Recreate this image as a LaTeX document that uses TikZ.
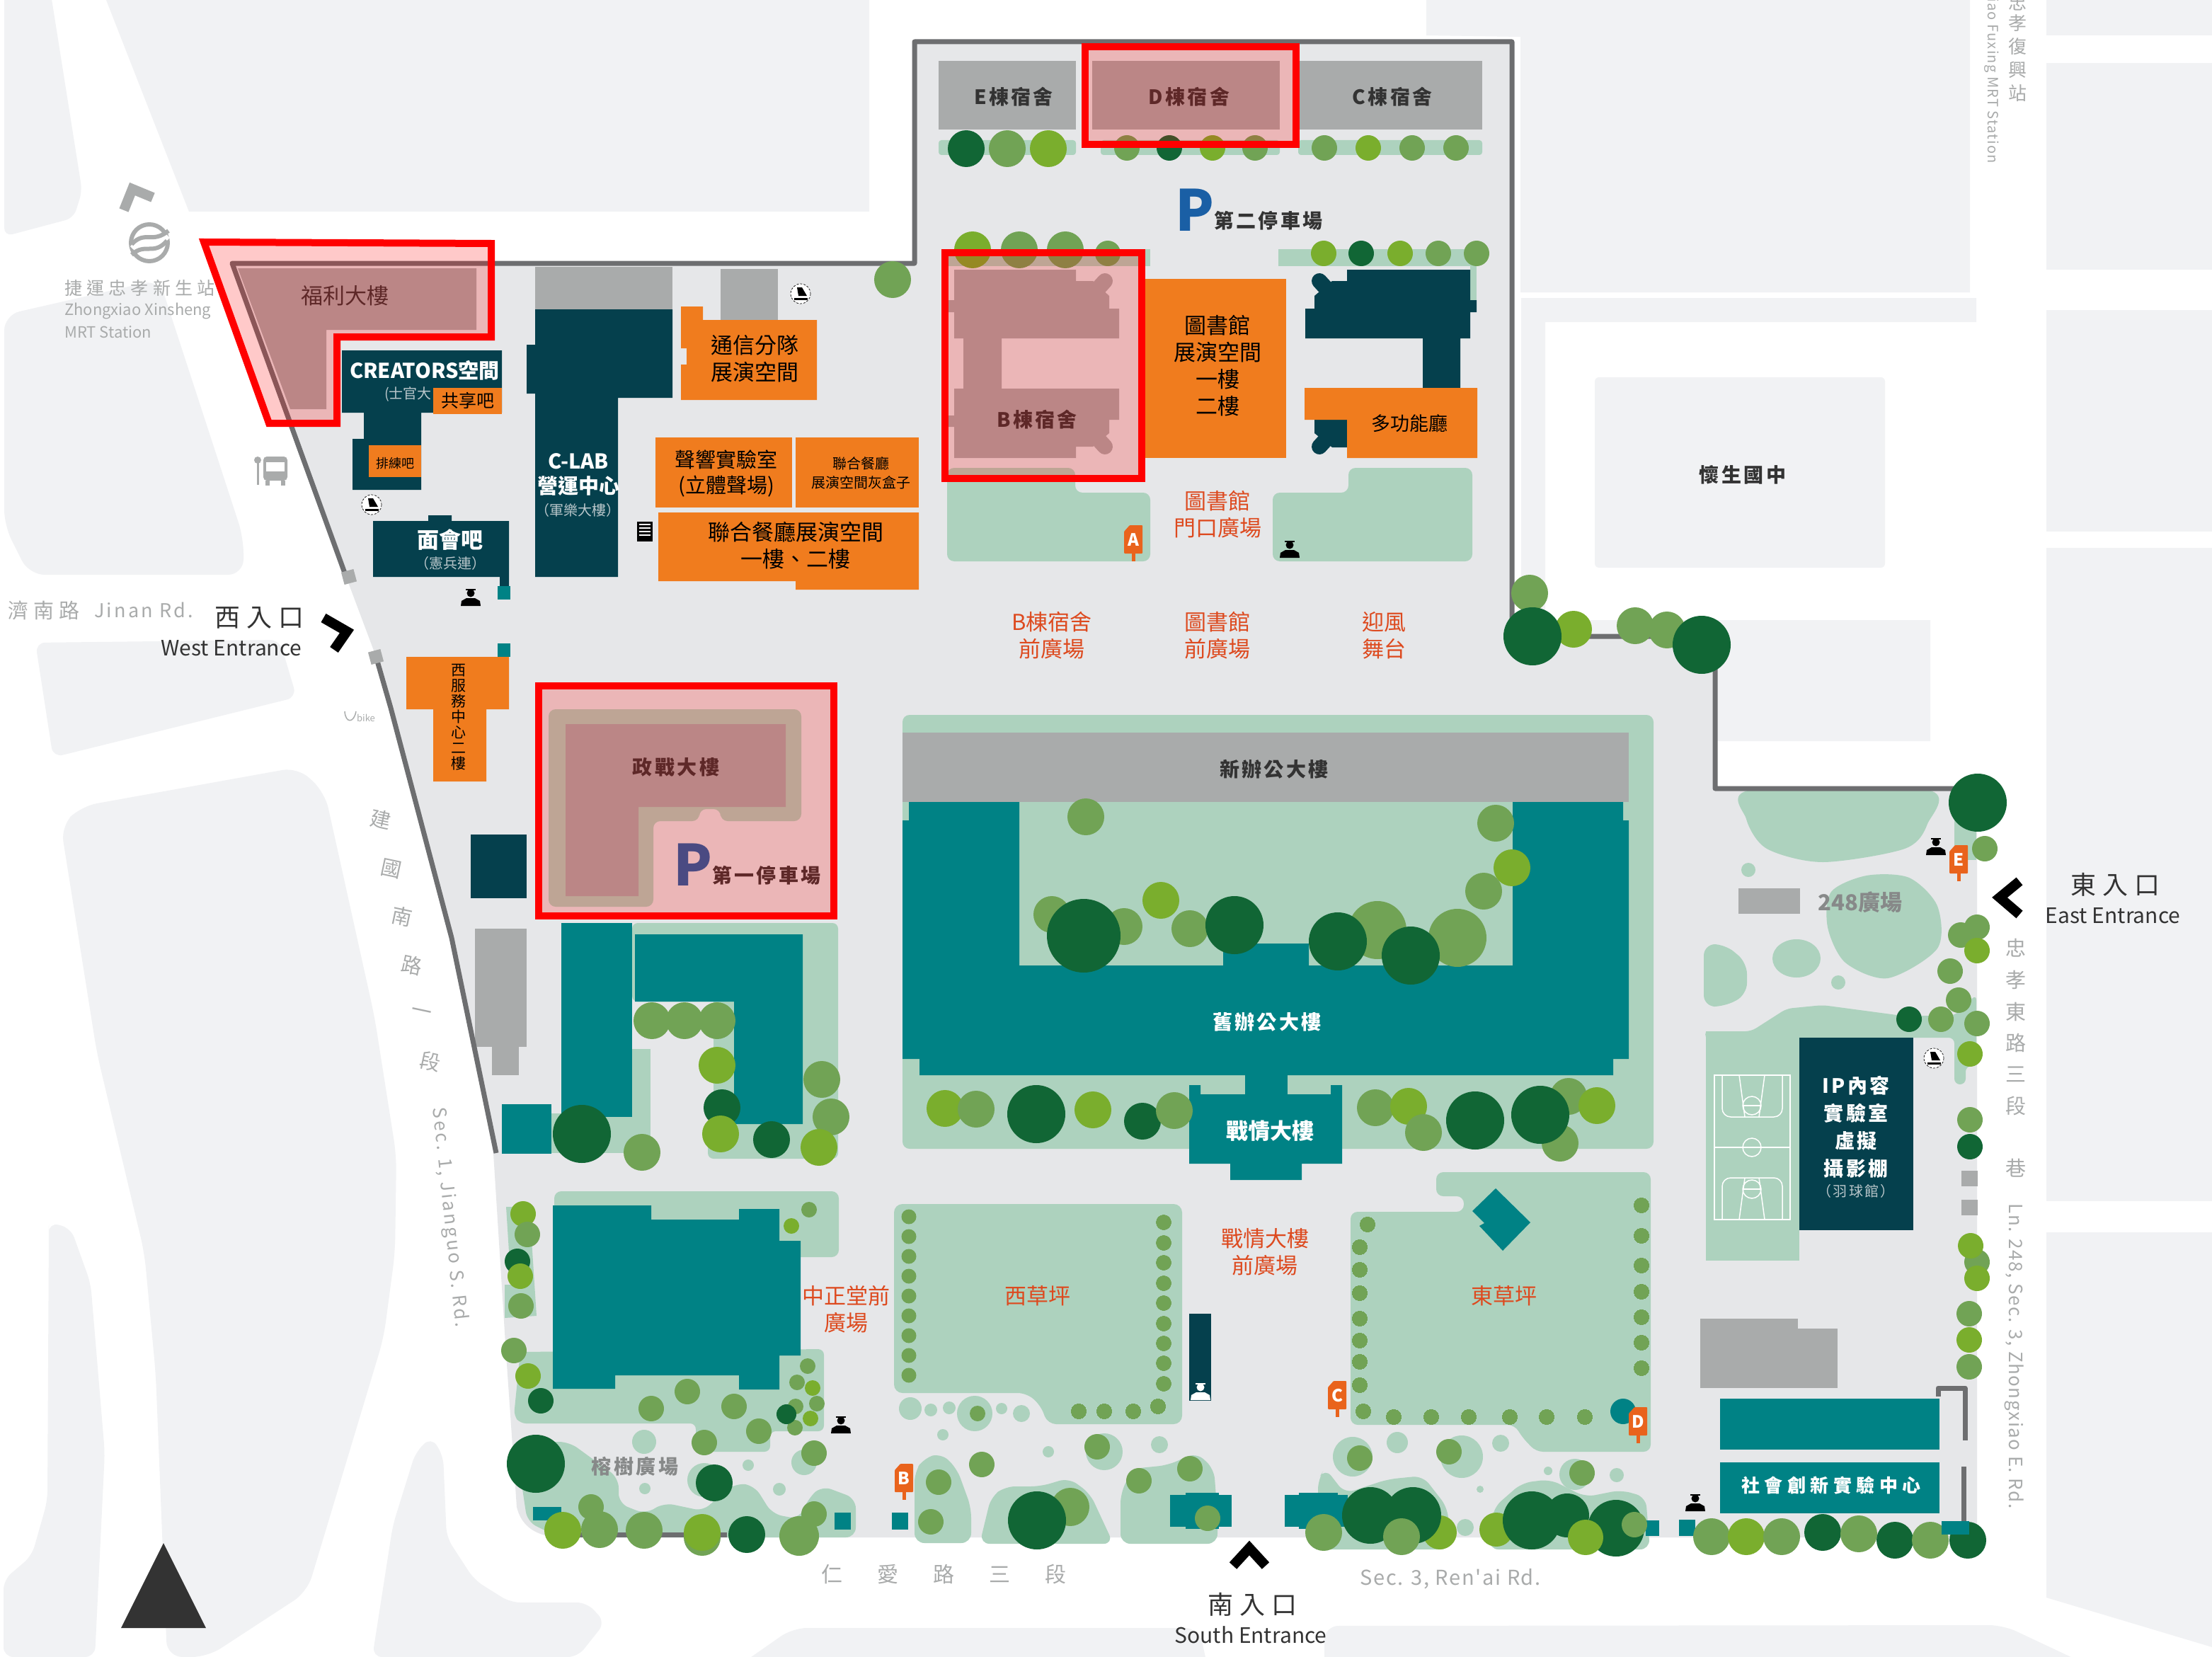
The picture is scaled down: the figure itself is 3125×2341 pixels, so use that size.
\documentclass[tikz,border=0pt]{standalone}
\usepackage{fontspec}
\setmainfont{Noto Sans CJK TC}
\newfontfamily\sps[LetterSpace=6]{Noto Sans CJK TC}
\newfontfamily\spc[LetterSpace=12]{Noto Sans CJK TC}
\newfontfamily\spw[LetterSpace=25]{Noto Sans CJK TC}
\definecolor{rd}{HTML}{F1F2F4}
\definecolor{grd}{HTML}{E6E7E9}
\definecolor{wal}{HTML}{6D6E70}
\definecolor{lwn}{HTML}{ADD2BE}
\definecolor{tea}{HTML}{008285}
\definecolor{dkt}{HTML}{05404D}
\definecolor{gbl}{HTML}{A9ABAB}
\definecolor{org}{HTML}{F07C1E}
\definecolor{rtx}{HTML}{DD4A1F}
\definecolor{sgn}{HTML}{E9631C}
\definecolor{dk}{HTML}{116635}
\definecolor{md}{HTML}{71A355}
\definecolor{lt}{HTML}{7AAE2D}
\definecolor{ink}{HTML}{333333}
\definecolor{blu}{HTML}{1A5FA5}
\definecolor{lgt}{HTML}{B9C6CA}
\newcommand\fz[2]{\fontsize{#1}{#2}\selectfont}
\newcommand\tr[4]{\fill[#4] (#1,#2) circle (#3);}
\newcommand\guard[3]{\begin{scope}[shift={(#1,#2)},#3]
 \fill (0,-5) circle (5.5); \fill (-7,-11) rectangle (7,-9);
 \fill (-14,13) -- (-13,6) -- (-6,2) -- (6,2) -- (13,6) -- (14,13) -- cycle;\end{scope}}
\newcommand\smk[2]{\begin{scope}[shift={(#1,#2)}]
 \fill[white] (0,0) circle (14); \draw[black,line width=.7,densely dashed] (0,0) circle (14);
 \fill[black] (-9,6) rectangle (10,9); \fill[black] (-5,-9) -- (2,-9) -- (9,3) -- (-3,3) -- cycle;\end{scope}}
\newcommand\sgnp[3]{\fill[sgn] (#1-2.5,#2+40) rectangle (#1+2.5,#2+51);
 \fill[sgn,rounded corners=1] (#1-13,#2+9) -- (#1-5,#2) -- (#1+13,#2) -- (#1+13,#2+40) -- (#1-13,#2+40) -- cycle;
 \node[txt,white,font=\fz{24}{24}\bfseries] (sign#3) at (#1,#2+21) {#3};}
\tikzset{txt/.style={inner sep=0pt,align=center},
 wallline/.style={draw=wal,line width=7,line join=round},
 chev/.style={draw=black,line width=14,line join=miter},
 redbox/.style={draw=red,line width=10,line join=miter},
 tint/.style={fill=red,fill opacity=0.21},
 road/.style={txt,text=gbl}}
\begin{document}
\begin{tikzpicture}[x=1pt,y=-1pt]
\useasboundingbox (0,0) rectangle (3125,2341);
\fill[white] (0,0) rectangle (3125,2341);
% road blocks
\begin{scope}[fill=rd]
\fill (150,0) -- (1228,0) -- (1228,299) -- (267,299) -- cycle;
\fill[rounded corners=12] (6,-20) -- (70,-20) -- (116,270) -- (104,308) -- (6,334) -- cycle;
\fill[rounded corners=22] (6,445) -- (225,395) -- (344,760) -- (344,812) -- (41,812) -- (6,742) -- cycle;
\fill[rounded corners=14] (50,908) -- (395,904) -- (419,985) -- (75,1070) -- cycle;
\fill[rounded corners=22] (86,1167) -- (115,1139) -- (421,1084) -- (459,1120) -- (529,1436) -- (560,1633) -- (558,1770) -- (542,1890) -- (434,2249) -- (293,2341) -- (236,2341) -- (220,1941) -- (204,1770) -- (137,1488) -- cycle;
\fill[rounded corners=14] (69,1744) -- (69,1727) -- (100,1735) -- (128,1813) -- (148,2052) -- (134,2341) -- (5,2341) -- (5,2232) -- (45,2198) -- (67,2120) -- cycle;
\fill[rounded corners=14] (526,2341) -- (555,2155) -- (587,2052) -- (609,2030) -- (626,2056) -- (631,2172) -- (670,2232) -- (721,2264) -- (829,2264) -- (855,2292) -- (816,2341) -- cycle;
\fill[rounded corners=20] (1034,2360) -- (1120,2300) -- (1694,2300) -- (1707,2360) -- cycle;
\fill[rounded corners=20] (1871,2360) -- (1871,2297) -- (2830,2296) -- (2966,2360) -- cycle;
\fill (2015,0) -- (2783,0) -- (2783,413) -- (2148,413) -- (2148,52) -- (2015,50) -- cycle;
\fill (2149,421) -- (2792,421) -- (2792,455) -- (2183,455) -- (2183,876) -- (2727,876) -- (2727,1047) -- (2149,1047) -- cycle;
\fill[rounded corners=6] (2253,533) rectangle (2663,802);
\fill (2891,0) rectangle (3125,50);
\fill (2891,89) rectangle (3125,381);
\fill (2891,438) rectangle (3125,751);
\fill (2891,774) rectangle (3125,1697);
\fill (2891,1741) -- (3125,1741) -- (3125,2327) -- (2891,2257) -- cycle;
\end{scope}
% campus ground
\fill[grd] (328,372) -- (1292,372) -- (1292,59) -- (2136,59) -- (2136,899) -- (2423,899) -- (2423,1114) -- (2793,1114) -- (2793,2172) -- (790,2172) .. controls (750,2170) and (735,2150) .. (730,2129) -- (714,1898) -- (697,1629) -- (638,1325) -- (552,1000) -- (531,927) -- (489,815) -- cycle;
% north arrow
\fill[ink] (231,2180) -- (291,2300) -- (171,2300) -- cycle;
% lawns
\begin{scope}[fill=lwn]
\fill[rounded corners=4] (1326,198) rectangle (1520,219);
\fill[rounded corners=4] (1555,198) rectangle (1808,219);
\fill[rounded corners=4] (1834,198) rectangle (2094,219);
\fill (1339,352) rectangle (1625,376);
\fill (1806,352) rectangle (2086,376);
\fill (2077,376) rectangle (2086,424);
\fill[rounded corners=10] (1338,661) -- (1519,661) -- (1519,696) -- (1625,696) -- (1625,793) -- (1338,793) -- cycle;
\fill[rounded corners=10] (1905,661) -- (2080,661) -- (2080,793) -- (1798,793) -- (1798,696) -- (1905,696) -- cycle;
\fill[rounded corners=10] (775,1002) -- (1132,1002) -- (1132,1160) -- (1018,1160) -- (1018,1143) -- (988,1143) -- (988,1160) -- (923,1160) -- (923,1281) -- (775,1281) -- cycle;
\fill[rounded corners=8] (893,1304) -- (1184,1304) -- (1184,1637) -- (1000,1637) -- (1000,1600) -- (1037,1600) -- (1037,1415) -- (893,1415) -- cycle;
\fill (1008,1410) rectangle (1037,1620);
\fill (893,1482) rectangle (919,1629);
\fill (779,1573) rectangle (919,1629);
\fill[rounded corners=10] (783,1683) rectangle (1185,1776);
\fill[rounded corners=8] (735,1910) -- (1164,1906) -- (1164,2022) -- (1088,2022) -- (1088,2051) -- (983,2051) -- (983,2011) -- (735,2011) -- (726,2000) -- cycle;
\fill (715,1705) -- (748,1705) -- (758,1859) -- (713,1862) -- (713,1815) -- (722,1815) -- cycle;
\fill[rounded corners=14] (728,2037) -- (804,2037) -- (874,2088) -- (874,2124) -- (912,2139) -- (938,2123) -- (995,2135) -- (1008,2120) -- (1040,2095) -- (1066,2099) -- (1091,2139) -- (1129,2146) -- (1142,2117) -- (1161,2099) -- (1209,2117) -- (1209,2172) -- (790,2172) -- (745,2150) -- cycle;
\fill[rounded corners=10] (1275,1010) rectangle (2336,1623);
\fill[rounded corners=12] (1263,1701) -- (1670,1701) -- (1670,2012) -- (1480,2012) -- (1470,1985) -- (1450,1968) -- (1263,1968) -- cycle;
\fill[rounded corners=10] (2029,1656) -- (2332,1656) -- (2332,2051) -- (2170,2051) -- (2150,2030) -- (2140,2013) -- (1908,2013) -- (1908,1712) -- (2068,1712) -- (2068,1690) -- (2029,1690) -- cycle;
\fill[rounded corners=14] (1292,2180) -- (1292,2080) -- (1305,2060) -- (1330,2053) -- (1352,2075) -- (1372,2130) -- (1372,2180) -- cycle;
\fill[rounded corners=14] (1384,2181) -- (1400,2115) -- (1420,2100) -- (1470,2100) -- (1510,2088) -- (1540,2110) -- (1573,2181) -- cycle;
\fill[rounded corners=14] (1583,2181) -- (1583,2110) -- (1600,2075) -- (1650,2070) -- (1690,2052) -- (1715,2075) -- (1720,2140) -- (1720,2181) -- cycle;
\fill[rounded corners=14] (1862,2189) -- (1862,2090) -- (1872,2074) -- (1900,2110) -- (1960,2090) -- (2010,2085) -- (2045,2130) -- (2049,2189) -- cycle;
\fill[rounded corners=14] (2103,2189) -- (2110,2130) -- (2150,2095) -- (2190,2090) -- (2240,2115) -- (2290,2105) -- (2325,2115) -- (2331,2189) -- cycle;
\foreach \x/\y/\r in {910/2037/17,1057/2070/8,911/2103/8,1101/2104/9,995/2091/24,1136/2066/18,1286/1990/16,1315/1992/9,1341/1989/9,1377/1997/25,1415/1990/8,1443/1997/12,1332/2027/8,1560/2051/26,1481/2051/8,1638/2041/12,1911/2058/28,1974/2038/15,2065/2058/30,2120/2039/12,2091/2104/5,2070/2158/12,2187/2078/6,2225/2083/22,2284/2084/10,2470/1229/10,2597/1388/10}
  \fill (\x,\y) circle (\r);
\begin{scope}[xshift=-3pt]
\fill plot[smooth cycle] coordinates {(2477,1116) (2726,1116) (2726,1164) (2694,1199) (2578,1218) (2499,1199) (2470,1157)};
\fill (2764,1119) rectangle (2795,1215);
\fill plot[smooth cycle] coordinates {(2590,1260) (2640,1237) (2700,1240) (2740,1280) (2740,1340) (2670,1382) (2610,1360) (2585,1310)};
\fill (2541,1354) ellipse (34 and 27);
\fill[rounded corners=16] (2410,1334) -- (2440,1334) -- (2471,1360) -- (2471,1405) -- (2440,1422) -- (2410,1422) -- cycle;
\fill[rounded corners=8] (2412,1457) -- (2477,1457) -- (2527,1425) -- (2578,1420) -- (2690,1435) -- (2764,1435) -- (2795,1405) -- (2795,1506) -- (2780,1506) -- (2780,1532) -- (2764,1532) -- (2764,1466) -- (2412,1466) -- cycle;
\fill (2413,1457) rectangle (2545,1781);
\end{scope}
\end{scope}
% grey buildings
\begin{scope}[fill=gbl]
\fill (1326,86) rectangle (1520,183);
\fill (1543,86) rectangle (1808,183);
\fill (1830,86) rectangle (2094,183);
\fill (1348,381) -- (1520,381) -- (1520,397) -- (1544,397) -- (1567,418) -- (1567,436) -- (1581,436) -- (1581,478) -- (1415,478) -- (1415,549) -- (1581,549) -- (1581,593) -- (1567,593) -- (1567,612) -- (1544,631) -- (1520,631) -- (1520,647) -- (1348,647) -- (1348,603) -- (1339,603) -- (1339,587) -- (1348,587) -- (1348,549) -- (1361,549) -- (1361,478) -- (1348,478) -- (1348,441) -- (1339,441) -- (1339,424) -- (1348,424) -- cycle;
\draw[gbl,line width=22,line cap=round] (1540,420) -- (1561,397);
\draw[gbl,line width=22,line cap=round] (1540,608) -- (1561,631);
\fill (336,379) -- (673,379) -- (673,466) -- (461,466) -- (461,578) -- (410,578) -- cycle;
\fill (799,1023) -- (1110,1023) -- (1110,1140) -- (902,1140) -- (902,1266) -- (799,1266) -- cycle;
\fill (756,377) rectangle (950,437);
\fill (1018,380) rectangle (1099,452);
\fill (671,1312) rectangle (744,1479);
\fill (695,1479) rectangle (733,1519);
\fill (1275,1035) rectangle (2301,1133);
\fill (2456,1255) rectangle (2543,1291);
\fill (2771,1654) rectangle (2794,1676);
\fill (2771,1695) rectangle (2794,1717);
\fill (2402,1863) rectangle (2540,1961);
\fill (2540,1877) rectangle (2596,1961);
\end{scope}
% dark teal buildings
\begin{scope}[fill=dkt]
\fill (483,495) -- (709,495) -- (709,583) -- (595,583) -- (595,692) -- (498,692) -- (498,620) -- (514,620) -- (514,583) -- (483,583) -- cycle;
\fill (527,736) -- (605,736) -- (605,728) -- (638,728) -- (638,736) -- (719,736) -- (719,828) -- (706,828) -- (706,815) -- (527,815) -- cycle;
\fill (756,437) -- (950,437) -- (950,562) -- (873,562) -- (873,815) -- (756,815) -- (756,556) -- (744,556) -- (744,487) -- (756,487) -- cycle;
\fill (1903,381) -- (2077,381) -- (2077,424) -- (2086,424) -- (2086,441) -- (2077,441) -- (2077,478) -- (2063,478) -- (2063,548) -- (2010,548) -- (2010,478) -- (1844,478) -- (1844,436) -- (1857,436) -- (1857,418) -- (1882,397) -- (1903,397) -- cycle;
\draw[dkt,line width=22,line cap=round] (1885,420) -- (1864,397);
\fill (1857,593) -- (1903,593) -- (1903,632) -- (1882,632) -- (1857,612) -- cycle;
\draw[dkt,line width=22,line cap=round] (1885,608) -- (1864,631);
\fill (665,1179) rectangle (744,1269);
\fill (1680,1856) rectangle (1711,1979);
\fill (2542,1466) rectangle (2703,1738);
\end{scope}
% teal buildings
\begin{scope}[fill=tea]
\fill (703,828) rectangle (721,847);
\fill (703,909) rectangle (721,928);
\fill (1284,1133) -- (1440,1133) -- (1440,1364) -- (1728,1364) -- (1728,1333) -- (1849,1333) -- (1849,1364) -- (2137,1364) -- (2137,1133) -- (2293,1133) -- (2293,1159) -- (2301,1159) -- (2301,1496) -- (2279,1496) -- (2279,1519) -- (1299,1519) -- (1299,1496) -- (1275,1496) -- (1275,1159) -- (1284,1159) -- cycle;
\fill (1759,1519) rectangle (1819,1546);
\fill (1680,1533) -- (1696,1533) -- (1696,1546) -- (1880,1546) -- (1880,1533) -- (1896,1533) -- (1896,1644) -- (1839,1644) -- (1839,1667) -- (1738,1667) -- (1738,1644) -- (1680,1644) -- cycle;
\fill (793,1304) rectangle (893,1578);
\fill (897,1320) -- (1134,1320) -- (1134,1588) -- (1037,1588) -- (1037,1415) -- (897,1415) -- cycle;
\fill (709,1560) rectangle (779,1630);
\fill (781,1703) -- (920,1703) -- (920,1723) -- (1044,1723) -- (1044,1708) -- (1101,1708) -- (1101,1753) -- (1131,1753) -- (1131,1915) -- (1101,1915) -- (1101,1963) -- (1044,1963) -- (1044,1943) -- (869,1943) -- (869,1962) -- (781,1962) -- cycle;
\fill (2113,1679) -- (2162,1727) -- (2123,1767) -- (2090,1732) -- (2097,1728) -- (2080,1711) -- cycle;
\fill (753,2129) rectangle (793,2148);
\fill (1179,2137) rectangle (1202,2161);
\fill (1260,2137) rectangle (1283,2161);
\fill (1653,2112) rectangle (1740,2157); \fill (1675,2109) rectangle (1722,2160);
\fill (1815,2112) rectangle (1904,2157); \fill (1835,2109) rectangle (1890,2160);
\fill (2325,2148) rectangle (2344,2170);
\fill (2372,2147) rectangle (2395,2170);
\fill (2293,1994) circle (18);
\fill (2430,1976) rectangle (2740,2048);
\fill (2430,2066) rectangle (2740,2138);
\end{scope}
% orange buildings
\begin{scope}[fill=org]
\fill (521,629) rectangle (595,674);
\fill (962,452) -- (962,433) -- (993,433) -- (993,452) -- (1154,452) -- (1154,565) -- (962,565) -- (962,515) -- (970,515) -- (970,492) -- (962,492) -- cycle;
\fill (926,618) rectangle (1119,717);
\fill (1124,618) rectangle (1298,717);
\fill (930,724) -- (1298,724) -- (1298,833) -- (1124,833) -- (1124,821) -- (930,821) -- cycle;
\fill (1618,394) rectangle (1817,647);
\fill (1843,548) -- (2087,548) -- (2087,647) -- (1903,647) -- (1903,593) -- (1843,593) -- cycle;
\fill (574,928) -- (719,928) -- (719,1002) -- (687,1002) -- (687,1104) -- (612,1104) -- (612,1002) -- (574,1002) -- cycle;
\fill (612,548) rectangle (709,585);
\end{scope}
% walls
\draw[wallline] (489,815) -- (328,372) -- (1292,372) -- (1292,59) -- (2136,59) -- (2136,899) -- (2423,899) -- (2423,1114) -- (2762,1114);
\draw[wallline] (531,927) -- (552,1000) -- (638,1325) -- (701,1629);
\draw[wallline] (817,2168) -- (1027,2168);
\draw[wallline] (2738,1973) -- (2738,1961) -- (2776,1961) -- (2776,2035);
\draw[wallline] (2774,2072) -- (2774,2150);
\fill[gbl,rotate around={15:(493,815)}] (484,806) rectangle (502,824);
\fill[gbl,rotate around={15:(531,928)}] (522,919) rectangle (540,937);
% basketball court
\begin{scope}[xshift=-3pt,draw=white,line width=1.5]
\draw (2425,1519) rectangle (2532,1723);
\draw (2425,1621) -- (2532,1621);
\draw (2478,1621) circle (13);
\draw[rounded corners=12] (2436,1519) -- (2436,1578) -- (2521,1578) -- (2521,1519);
\draw (2460,1519) -- (2468,1578) (2496,1519) -- (2488,1578);
\draw (2478,1562) circle (13); \draw (2465,1562) -- (2491,1562);
\draw[rounded corners=12] (2436,1723) -- (2436,1664) -- (2521,1664) -- (2521,1723);
\draw (2460,1723) -- (2468,1664) (2496,1723) -- (2488,1664);
\draw (2478,1680) circle (13); \draw (2465,1680) -- (2491,1680);
\end{scope}
% trees
\foreach \x/\y/\r/\c in {1365/210/26/dk,1423/210/26/md,1481/210/26/lt,1592/209/18/md,1652/209/18/dk,1713/209/18/lt,1773/209/18/md,1871/209/18/md,1933/209/18/lt,1995/209/18/md,2057/209/18/md,
1374/353/26/lt,1440/353/26/md,1505/353/26/md,1565/358/18/md,1870/358/18/lt,1923/358/18/dk,1978/358/18/lt,2032/358/18/md,2086/358/18/md,1261/395/26/md,
2161/838/26/md,2223/889/26/lt,2310/884/26/md,2355/890/26/md,2404/911/41/dk,2165/899/41/dk,
1534/1154/26/md,2113/1163/26/md,2136/1226/26/lt,2096/1259/26/md,2059/1325/41/md,1946/1314/41/md,1993/1350/41/dk,1890/1330/41/dk,1681/1312/26/md,1640/1272/26/lt,1744/1307/41/dk,1588/1309/26/md,1486/1292/26/md,1531/1322/52/dk,
1335/1566/26/lt,1379/1567/26/md,1464/1574/41/dk,1544/1568/26/lt,1614/1584/26/dk,1659/1569/26/md,1943/1565/26/md,1990/1563/26/lt,2011/1600/26/md,2084/1583/41/dk,2216/1549/26/md,2256/1562/26/lt,2204/1615/26/md,2176/1575/41/dk,
822/1602/41/dk,907/1628/26/md,921/1442/26/md,967/1442/26/md,1013/1442/26/md,1013/1505/26/lt,1020/1565/26/dk,1018/1602/26/lt,1090/1610/26/dk,1161/1525/26/md,1174/1578/26/md,1157/1621/26/lt,
1143/1709/11/md,1118/1732/11/lt,971/1966/18/md,920/1990/18/md,1037/1987/18/md,1072/2022/18/md,995/2038/18/md,764/1979/18/dk,746/1944/18/lt,726/1908/18/md,1141/1930/11/md,1126/1953/11/md,1148/1961/11/lt,1124/1987/11/md,1154/1983/11/md,1123/2017/11/md,1111/1998/14/dk,1145/2004/11/lt,1150/2053/18/md,
739/1715/18/lt,745/1744/18/md,731/1782/18/dk,735/1803/18/lt,736/1845/18/md,757/2068/41/dk,835/2129/18/md,795/2162/26/lt,847/2161/26/md,910/2162/26/md,992/2172/26/md,992/2165/26/lt,1055/2168/26/dk,1150/2139/18/md,1129/2170/28/md,1009/2095/26/dk,
1381/1997/11/md,1550/2044/18/md,1387/2069/18/md,1326/2094/18/md,1315/2150/18/md,1512/2129/27/md,1465/2148/41/dk,1609/2092/18/md,1681/2075/18/md,1706/2145/18/md,
1921/2060/18/md,2047/2051/18/md,2235/2081/18/md,2034/2165/24/lt,1936/2141/40/dk,1996/2141/40/dk,1870/2165/26/md,1980/2171/26/md,2114/2161/24/lt,2164/2148/41/dk,2283/2159/40/dk,2214/2141/31/dk,2240/2172/25/lt,2309/2154/18/md,
2794/1134/41/dk,2804/1199/18/md,2770/1321/18/md,2793/1310/18/md,2793/1343/18/lt,2755/1372/18/md,2767/1413/18/md,2793/1446/18/md,2742/1440/18/md,2697/1440/18/dk,2783/1489/18/lt,2783/1582/18/md,2783/1620/18/dk,2793/1783/18/md,2784/1760/18/lt,2793/1806/18/lt,2782/1856/18/md,2782/1893/18/lt,2782/1931/18/md,
2418/2171/26/md,2467/2171/26/lt,2517/2171/26/md,2575/2165/26/dk,2626/2167/26/md,2677/2176/26/dk,2727/2176/26/md,2780/2176/26/dk}
  {\fill[\c] (\x,\y) circle (\r);}
\foreach \y in {1719,1747,1775,1803,1831,1859,1887,1915,1943} \tr{1284}{\y}{10.5}{md}
\foreach \y in {1727,1756,1784,1813,1841,1870,1898,1926,1955} \tr{1644}{\y}{10.5}{md}
\foreach \x/\y in {1524/1994,1560/1994,1601/1994,1636/1987,1932/1730,1921/1762,1921/1794,1921/1827,1921/1863,1921/1894,1921/1924,1921/1957,1926/1994,1969/2002,2022/2002,2075/2002,2133/2002,2185/2002,2239/2002,2319/1703,2319/1746,2319/1788,2319/1825,2319/1861,2319/1897,2319/1933} \tr{\x}{\y}{10.5}{md}
\fill[tea] (2743,2149) rectangle (2782,2168);
% signs
\sgnp{1601}{742}{A}
\sgnp{1277}{2068}{B}
\sgnp{1889}{1951}{C}
\sgnp{2314}{1988}{D}
\sgnp{2767}{1194}{E}
% icons
\guard{1822}{775}{black}
\guard{665}{843}{black}
\guard{1188}{2012}{black}
\guard{2735}{1195}{black}
\guard{2395}{2122}{black}
\guard{1696}{1965}{white}
\smk{525}{713}
\smk{1131}{415}
\smk{2732}{1495}
\fill[black] (900,737) rectangle (922,765);
\foreach \y in {741,746,751,756} \draw[white,line width=1.2] (903,\y) -- (919,\y);
% bus icon
\draw[gbl,line width=3] (364,650) -- (364,685);
\fill[gbl] (364,650) circle (5);
\fill[gbl,rounded corners=5] (372,645) rectangle (406,679);
\fill[white] (376,653) rectangle (402,666);
\fill[gbl] (375,679) rectangle (381,686); \fill[gbl] (397,679) rectangle (403,686);
% MRT logo
\draw[gbl,line width=6] (211,343) circle (26);
\draw[white,line width=11] (188,352) .. controls (205,332) and (218,352) .. (236,332);
\draw[gbl,line width=6] (186,345) .. controls (205,325) and (215,345) .. (238,326);
\draw[gbl,line width=6] (186,360) .. controls (205,342) and (217,362) .. (236,340);
% ubike
\draw[gbl,line width=1.5] (487,1005) .. controls (488,1022) and (500,1022) .. (503,1005);
\node[txt,text=gbl,font=\fz{13}{13}\itshape] (ubike) at (517,1014) {bike};
% entrances
\draw[draw=gbl,line width=14,line join=miter] (175,297) -- (187,267) -- (216,279);
\draw[chev] (457,873) -- (490,892) -- (472,918);
\draw[chev] (2853,1245) -- (2825,1268) -- (2853,1292);
\draw[chev] (1742,2212) -- (1765,2187) -- (1788,2212);
% labels
\node[txt,text=ink,font=\fz{31}{38}] (fuli) at (487,418) {福利大樓};
\node[txt,white,font=\fz{29}{29}\bfseries] (creators) at (600,523) {CREATORS空間};
\node[txt,text=lgt,font=\fz{20}{20},anchor=west] (shiguan) at (543,557) {(士官大};
\node[txt,black,font=\fz{25}{25}] (gongxiang) at (661,566) {共享吧};
\node[txt,black,font=\fz{18}{18}] (pailian) at (558,655) {排練吧};
\node[txt,white,font=\fz{31}{31}\bfseries] (mianhui) at (636,763) {面會吧};
\node[txt,text=lgt,font=\fz{20}{20}] (xianbing) at (636,796) {（憲兵連）};
\node[txt,white,font=\fz{29}{35}\bfseries] (clab) at (817,670) {C-LAB\\營運中心};
\node[txt,text=lgt,font=\fz{20}{20}] (junyue) at (816,721) {（軍樂大樓）};
\node[txt,black,font=\fz{31}{38}] (tongxin) at (1066,507) {通信分隊\\展演空間};
\node[txt,black,font=\fz{29}{36}] (shengxiang) at (1026,669) {聲響實驗室\\(立體聲場)};
\node[txt,black,font=\fz{20}{27}] (huihe) at (1216,668) {聯合餐廳\\展演空間灰盒子};
\node[txt,black,font=\fz{31}{38}] (canting) at (1124,771) {聯合餐廳展演空間\\一樓、二樓};
\node[txt,black,font=\fz{21}{22}] (xifu) at (648,1013) {西\\服\\務\\中\\心\\二\\樓};
\node[txt,text=ink,font=\spc\fz{28}{28}\bfseries] (ebldg) at (1432,137) {E棟宿舍};
\node[txt,text=ink,font=\spc\fz{28}{28}\bfseries] (dbldg) at (1680,137) {D棟宿舍};
\node[txt,text=ink,font=\spc\fz{28}{28}\bfseries] (cbldg) at (1967,137) {C棟宿舍};
\node[txt,text=ink,font=\spc\fz{28}{28}\bfseries] (bbldg) at (1465,593) {B棟宿舍};
\node[txt,text=blu,font=\fz{80}{80}\bfseries] (p2) at (1688,297) {P};
\node[txt,text=ink,font=\spc\fz{28}{28}\bfseries] (park2) at (1792,312) {第二停車場};
\node[txt,text=blu,font=\fz{80}{80}\bfseries] (p1) at (979,1222) {P};
\node[txt,text=ink,font=\spc\fz{28}{28}\bfseries] (park1) at (1083,1237) {第一停車場};
\node[txt,text=ink,font=\spc\fz{28}{28}\bfseries] (zhengzhan) at (955,1084) {政戰大樓};
\node[txt,black,font=\fz{31}{38}] (libexh) at (1720,517) {圖書館\\展演空間\\一樓\\二樓};
\node[txt,black,font=\fz{27}{27}] (duogong) at (1991,598) {多功能廳};
\node[txt,text=rtx,font=\fz{31}{38}] (libgate) at (1720,727) {圖書館\\門口廣場};
\node[txt,text=rtx,font=\fz{31}{38}] (bfront) at (1486,898) {B棟宿舍\\前廣場};
\node[txt,text=rtx,font=\fz{31}{38}] (libfront) at (1720,898) {圖書館\\前廣場};
\node[txt,text=rtx,font=\fz{31}{38}] (yingfeng) at (1955,898) {迎風\\舞台};
\node[txt,text=ink,font=\spc\fz{28}{28}\bfseries] (xinban) at (1800,1087) {新辦公大樓};
\node[txt,white,font=\spc\fz{28}{28}\bfseries] (jiuban) at (1790,1444) {舊辦公大樓};
\node[txt,white,font=\fz{31}{31}\bfseries] (zhanqing) at (1794,1598) {戰情大樓};
\node[txt,text=rtx,font=\fz{31}{38}] (zqfront) at (1787,1769) {戰情大樓\\前廣場};
\node[txt,text=rtx,font=\fz{31}{38}] (zzt) at (1195,1850) {中正堂前\\廣場};
\node[txt,text=rtx,font=\fz{31}{31}] (xicao) at (1466,1831) {西草坪};
\node[txt,text=rtx,font=\fz{31}{31}] (dongcao) at (2125,1831) {東草坪};
\node[txt,text=gbl!80!black,font=\spc\fz{28}{28}\bfseries] (rongshu) at (897,2072) {榕樹廣場};
\node[txt,text=gbl!80!black,font=\fz{31}{31}\bfseries] (p248) at (2628,1275) {248廣場};
\node[txt,text=ink,font=\spc\fz{28}{28}\bfseries] (huaisheng) at (2462,671) {懷生國中};
\node[txt,white,font=\spc\fz{28}{39}\bfseries] (iplab) at (2622,1592) {IP內容\\實驗室\\虛擬\\攝影棚};
\node[txt,text=lgt,font=\spc\fz{20}{20}] (yuqiu) at (2622,1683) {（羽球館）};
\node[txt,white,font=\spw\fz{26}{26}\bfseries] (shehui) at (2587,2099) {社會創新實驗中心};
% entrance labels
\node[txt,text=ink,font=\spw\fz{36}{36}] (west) at (366,873) {西入口};
\node[txt,text=ink,font=\fz{30}{30}] (westen) at (327,916) {West Entrance};
\node[txt,text=ink,font=\spw\fz{36}{36}] (east) at (2988,1250) {東入口};
\node[txt,text=ink,font=\fz{30}{30}] (easten) at (2985,1294) {East Entrance};
\node[txt,text=ink,font=\spw\fz{36}{36}] (south) at (1769,2267) {南入口};
\node[txt,text=ink,font=\fz{30}{30}] (southen) at (1767,2310) {South Entrance};
% road labels
\node[road,font=\spw\fz{25}{25},anchor=west] (mrtzh) at (91,407) {捷運忠孝新生站};
\node[road,font=\fz{22}{22},anchor=west] (mrten1) at (91,439) {Zhongxiao Xinsheng};
\node[road,font=\fz{22}{22},anchor=west] (mrten2) at (91,469) {MRT Station};
\node[road,font=\spw\fz{29}{29}] (jinan) at (62,862) {濟南路};
\node[road,font=\spc\fz{27}{27}] (jinanen) at (203,862) {Jinan Rd.};
\foreach \x/\y/\c [count=\i] in {538/1158/建,553/1227/國,568/1295/南,582/1364/路,595/1432/一,608/1500/段}
  \node[road,font=\fz{29}{29},rotate=-12] (jg\i) at (\x,\y) {\c};
\node[road,font=\spc\fz{26}{26},rotate=-84] (jianguo) at (635,1720) {Sec. 1, Jianguo S. Rd.};
\foreach \x/\c [count=\i] in {1175/仁,1254/愛,1333/路,1412/三,1491/段}
  \node[road,font=\fz{30}{30}] (ra\i) at (\x,2224) {\c};
\node[road,font=\sps\fz{29}{29}] (renai) at (2049,2231) {Sec. 3, Ren'ai Rd.};
\foreach \y/\c [count=\i] in {1339/忠,1384/孝,1429/東,1473/路,1518/三,1562/段,1650/巷}
  \node[road,font=\fz{29}{29}] (zx\i) at (2848,\y) {\c};
\node[road,font=\sps\fz{26}{26},rotate=-90] (lane) at (2846,1916) {Ln. 248, Sec. 3, Zhongxiao E. Rd.};
\foreach \y/\c [count=\i] in {3/忠,33/孝,66/復,99/興,132/站}
  \node[road,font=\fz{26}{26}] (fx\i) at (2850,\y) {\c};
\node[road,font=\sps\fz{20}{20},rotate=-90,anchor=east] (fuxing) at (2814,231) {iao Fuxing MRT Station};
% highlighted areas
\fill[tint] (288,342) -- (694,344) -- (694,476) -- (476,476) -- (476,598) -- (380,598) -- cycle;
\draw[redbox] (288,342) -- (694,344) -- (694,476) -- (476,476) -- (476,598) -- (380,598) -- cycle;
\fill[tint] (1533,66) rectangle (1831,204);
\draw[redbox] (1533,66) rectangle (1831,204);
\fill[tint] (1335,357) rectangle (1613,676);
\draw[redbox] (1335,357) rectangle (1613,676);
\fill[tint] (761,969) rectangle (1178,1294);
\draw[redbox] (761,969) rectangle (1178,1294);
\end{tikzpicture}
\end{document}
